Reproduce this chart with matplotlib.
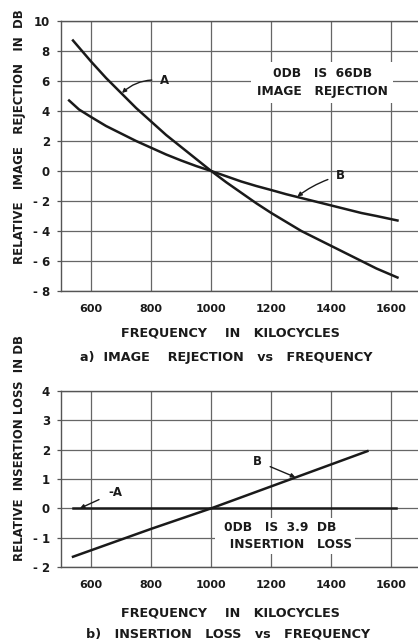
import numpy as np
import matplotlib.pyplot as plt

# ---------------------------------------------------------
# data
# ---------------------------------------------------------
freq_a = [540, 600, 650, 700, 750, 800, 850, 900, 950, 1000, 1050, 1100,
          1150, 1200, 1250, 1300, 1350, 1400, 1450, 1500, 1550, 1620]
rej_a = [8.7, 7.3, 6.2, 5.2, 4.2, 3.3, 2.4, 1.6, 0.8, 0.0, -0.75, -1.45,
         -2.15, -2.8, -3.4, -4.0, -4.5, -5.0, -5.5, -6.0, -6.5, -7.1]

freq_b = [527, 560, 600, 650, 700, 750, 800, 850, 900, 950, 1000, 1050, 1100,
          1150, 1200, 1250, 1300, 1350, 1400, 1450, 1500, 1550, 1620]
rej_b = [4.7, 4.1, 3.6, 3.0, 2.5, 2.0, 1.55, 1.1, 0.7, 0.33, 0.0, -0.35, -0.7,
         -1.0, -1.27, -1.55, -1.8, -2.05, -2.3, -2.55, -2.8, -3.0, -3.3]

loss_freq_a = [540, 1615]
loss_a = [0.0, 0.0]
loss_freq_b = [540, 800, 1000, 1200, 1400, 1520]
loss_b = [-1.65, -0.7, 0.0, 0.75, 1.5, 1.95]

x_ticks = [600, 800, 1000, 1200, 1400, 1600]
rej_ticks = [10, 8, 6, 4, 2, 0, -2, -4, -6, -8]
loss_ticks = [4, 3, 2, 1, 0, -1, -2]

# ---------------------------------------------------------
fig = plt.figure(figsize=(4.18, 6.43), dpi=100, facecolor='white')
W, H = 418, 643

def px_axes(left, top, right, bottom):
    return fig.add_axes([left / W, 1 - bottom / H, (right - left) / W, (bottom - top) / H])

ink = '#1a1a1a'
fnt = dict(family='DejaVu Sans', weight='bold', color=ink)

def style(ax, yt, ylim):
    ax.set_xlim(500, 1695)
    ax.set_ylim(*ylim)
    ax.set_xticks(x_ticks)
    ax.set_yticks(yt)
    ax.set_xticklabels([str(v) for v in x_ticks], fontsize=8, **fnt)
    ax.set_yticklabels([str(v).replace('-', '- ') for v in yt], fontsize=8.5, **fnt)
    ax.grid(True, color='#666666', linewidth=0.9)
    ax.set_axisbelow(True)
    ax.spines['right'].set_visible(False)
    for s in ['left', 'top', 'bottom']:
        ax.spines[s].set_color('#555555')
        ax.spines[s].set_linewidth(1.0)
    ax.tick_params(axis='y', length=3, width=0.9, color='#555555', pad=5)
    ax.tick_params(axis='x', length=0, pad=9)

# ---- a) image rejection ----
ax1 = px_axes(61, 21, 420, 291)
style(ax1, rej_ticks, (-8, 10))
ax1.plot(freq_a, rej_a, color=ink, linewidth=1.8)
ax1.plot(freq_b, rej_b, color=ink, linewidth=1.8)

ax1.annotate('A', xy=(703, 5.2), xytext=(845, 6.0), fontsize=8.5, va='center', ha='center',
             arrowprops=dict(arrowstyle='-|>', color=ink, lw=1.0, mutation_scale=6,
                             shrinkA=4, shrinkB=0, connectionstyle='arc3,rad=0.25'), **fnt)
ax1.annotate('B', xy=(1287, -1.7), xytext=(1430, -0.3), fontsize=8.5, va='center', ha='center',
             arrowprops=dict(arrowstyle='-|>', color=ink, lw=1.0, mutation_scale=6,
                             shrinkA=4, shrinkB=0, connectionstyle='arc3,rad=0.1'), **fnt)
ax1.text(1370, 5.9, '0DB   IS  66DB\nIMAGE   REJECTION', fontsize=8.8, ha='center', va='center',
         linespacing=1.45, bbox=dict(facecolor='white', edgecolor='none', pad=4), **fnt)

fig.text(20 / W, 1 - 137 / H, 'RELATIVE   IMAGE   REJECTION   IN  DB', rotation=90,
         ha='center', va='center', fontsize=8.5, **fnt)
fig.text(230 / W, 1 - 333 / H, 'FREQUENCY    IN   KILOCYCLES', ha='center', va='center',
         fontsize=9.2, **fnt)
fig.text(226 / W, 1 - 358 / H, 'a)  IMAGE    REJECTION   vs   FREQUENCY', ha='center', va='center',
         fontsize=9.2, **fnt)

# ---- b) insertion loss ----
ax2 = px_axes(61, 391, 420, 567)
style(ax2, loss_ticks, (-2, 4))
ax2.plot(loss_freq_a, loss_a, color=ink, linewidth=1.8)
ax2.plot(loss_freq_b, loss_b, color=ink, linewidth=1.8)

ax2.annotate('-A', xy=(563, 0.0), xytext=(680, 0.55), fontsize=8.5, va='center', ha='center',
             arrowprops=dict(arrowstyle='-|>', color=ink, lw=1.0, mutation_scale=6,
                             shrinkA=5, shrinkB=0), **fnt)
ax2.annotate('B', xy=(1280, 1.06), xytext=(1155, 1.6), fontsize=8.5, va='center', ha='center',
             arrowprops=dict(arrowstyle='-|>', color=ink, lw=1.0, mutation_scale=6,
                             shrinkA=4, shrinkB=0), **fnt)
ax2.text(1245, -0.95, '0DB   IS  3.9  DB  \n   INSERTION   LOSS', fontsize=8.8, ha='center',
         va='center', linespacing=1.45, bbox=dict(facecolor='white', edgecolor='none', pad=2), **fnt)

fig.text(20 / W, 1 - 448 / H, 'RELATIVE  INSERTION LOSS  IN DB', rotation=90,
         ha='center', va='center', fontsize=8.5, **fnt)
fig.text(230 / W, 1 - 613 / H, 'FREQUENCY    IN   KILOCYCLES', ha='center', va='center',
         fontsize=9.2, **fnt)
fig.text(228 / W, 1 - 634 / H, 'b)   INSERTION   LOSS   vs   FREQUENCY', ha='center', va='center',
         fontsize=9.2, **fnt)

fig.savefig('out.png', dpi=100, facecolor='white')
